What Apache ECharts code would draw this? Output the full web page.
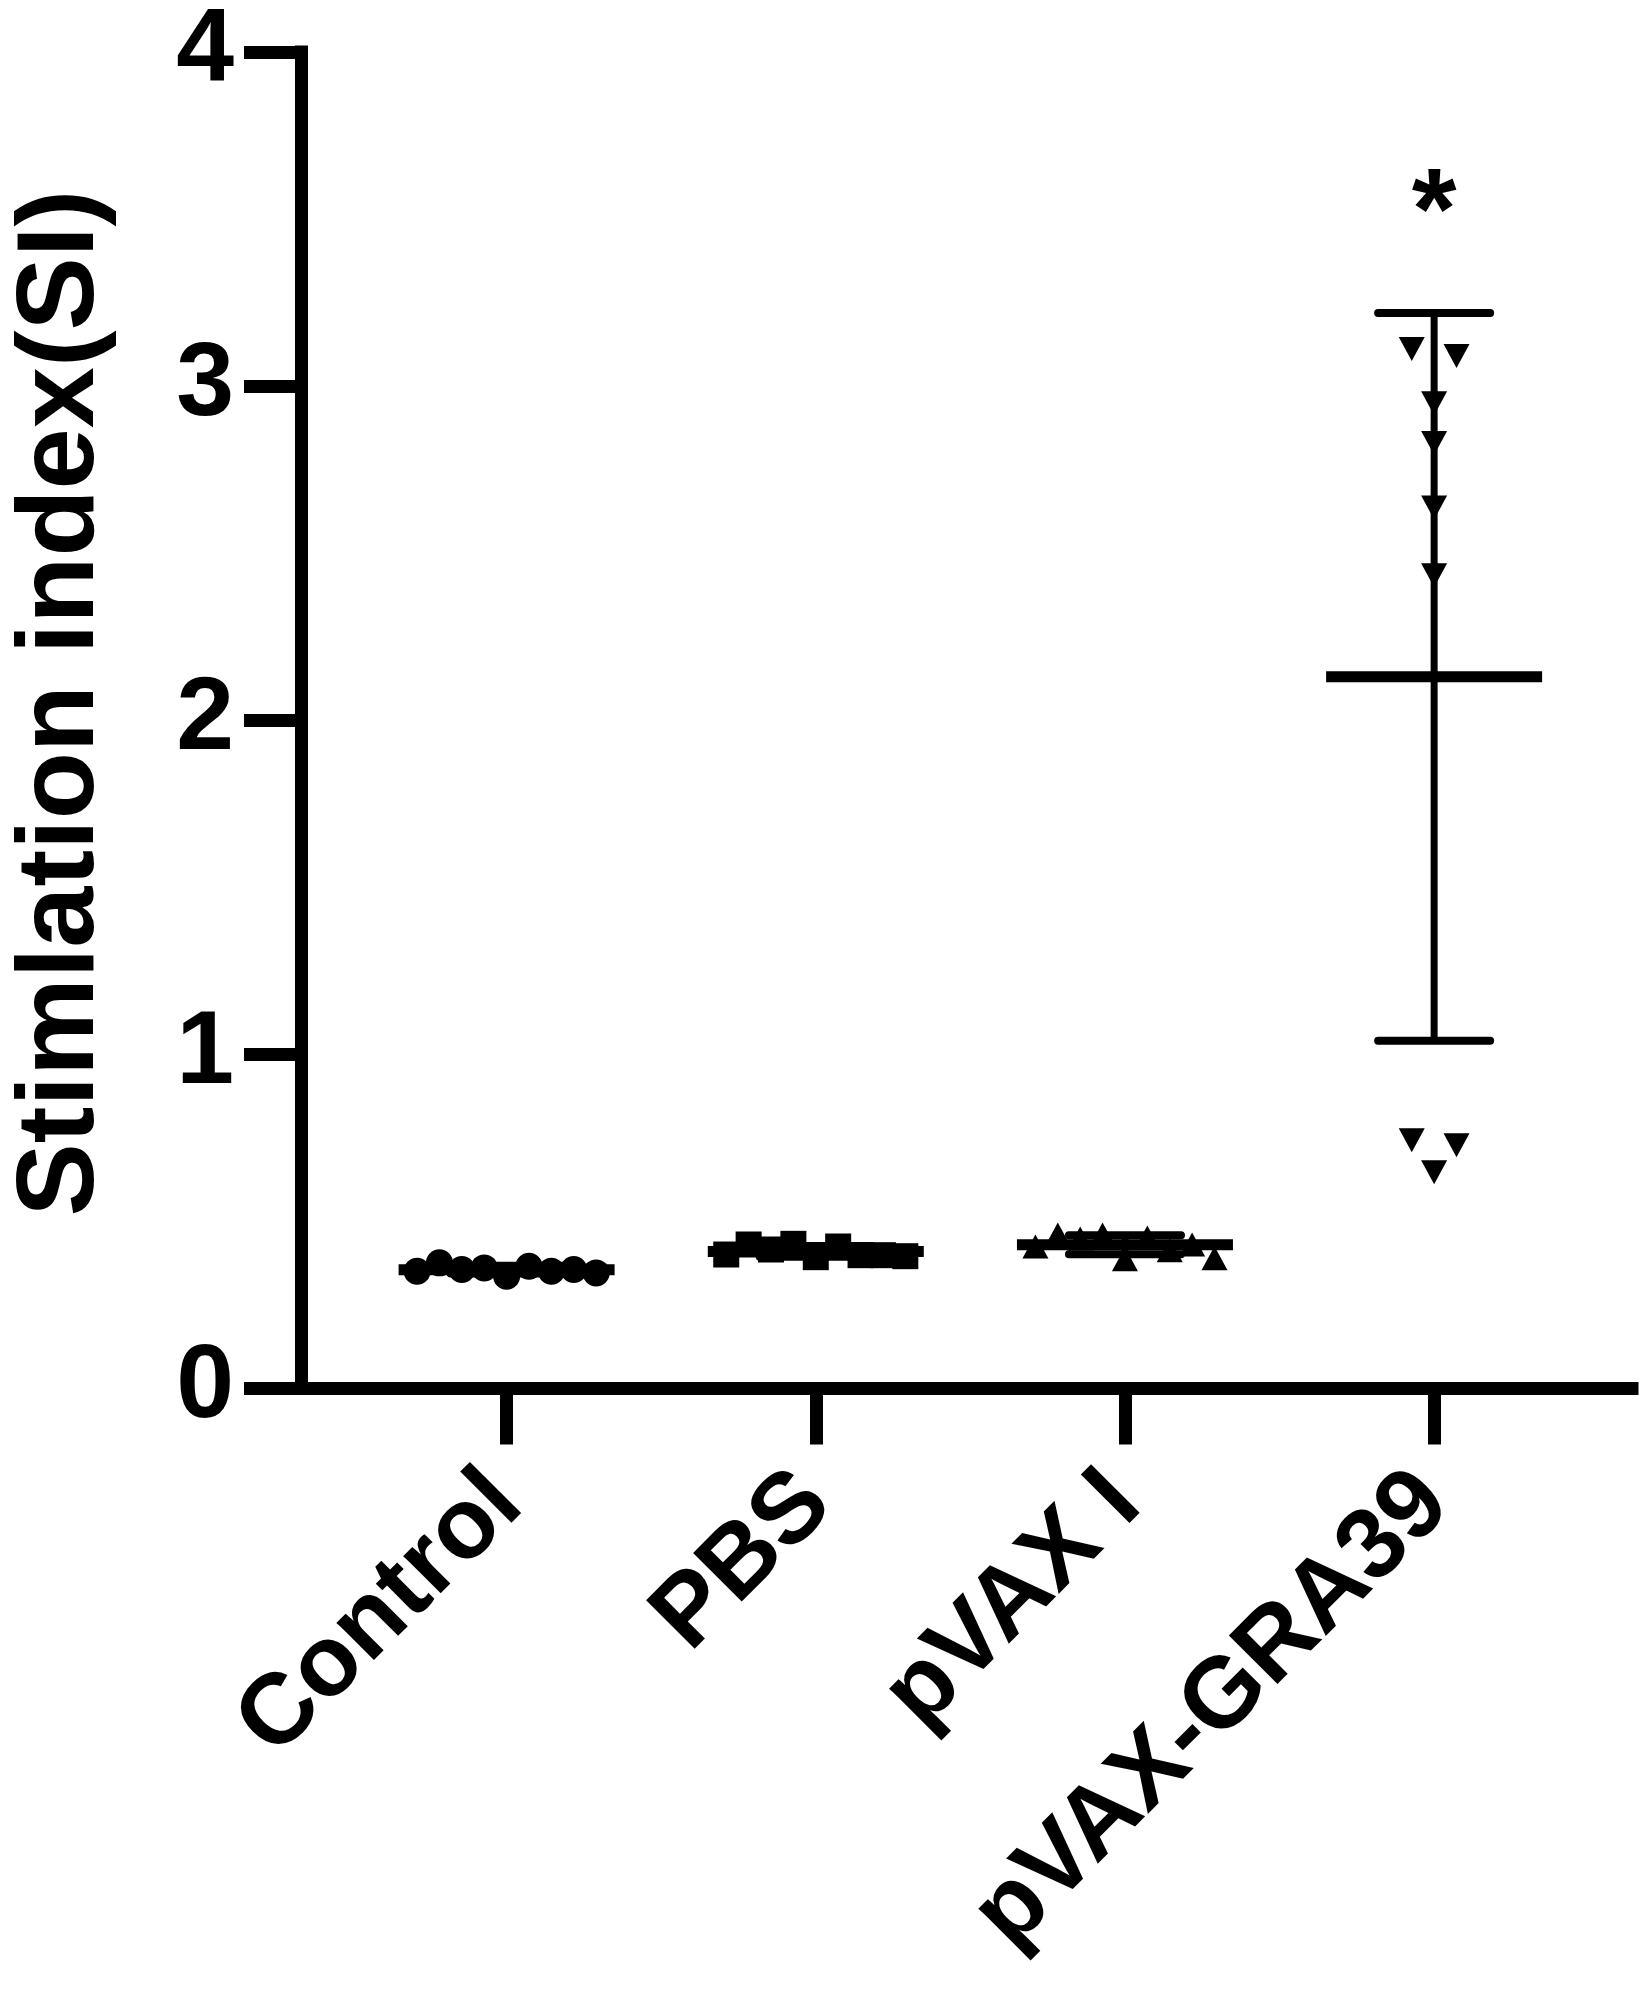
<!DOCTYPE html>
<html>
<head>
<meta charset="utf-8">
<style>
html,body{margin:0;padding:0;background:#fff;}
#chart{width:1650px;height:1991px;}
</style>
<script src="https://cdn.jsdelivr.net/npm/echarts@6/dist/echarts.min.js"></script>
</head>
<body>
<div id="chart"></div>
<script>
// ---- data ----
const categories = ['Control', 'PBS', 'pVAX I', 'pVAX-GRA39'];
const controlSI = [0.351, 0.376, 0.356, 0.361, 0.336, 0.366, 0.351, 0.356, 0.346];
const pbsSI     = [0.401, 0.431, 0.416, 0.433, 0.393, 0.425, 0.399, 0.399, 0.396];
const pvaxSI    = [0.425, 0.461, 0.449, 0.461, 0.387, 0.452, 0.414, 0.431, 0.390];
const gra39SI   = [3.111, 3.090, 2.949, 2.830, 2.637, 2.434, 0.743, 0.728, 0.647];
const sigMarks  = ['', '', '', '*'];
const yTickValues = [0, 1, 2, 3, 4];

const groups = [controlSI, pbsSI, pvaxSI, gra39SI];
const symbols = [
  { symbol: 'circle', size: 27, rotate: 0 },
  { symbol: 'rect', size: 26, rotate: 0 },
  { symbol: 'triangle', size: [26, 24], rotate: 0 },
  { symbol: 'triangle', size: [26, 24], rotate: 180 }
];

// column-scatter layout: points with overlapping values share a row and are spread sideways
const ROW_TOL = 0.09, SLOT = 0.0724;
function layoutGroup(values, pos) {
  const order = values.map((v, i) => i).sort((a, b) => values[b] - values[a]);
  const rows = [];
  order.forEach(i => {
    const last = rows[rows.length - 1];
    if (last && values[last[0]] - values[i] < ROW_TOL) last.push(i);
    else rows.push([i]);
  });
  const out = [];
  rows.forEach(row => {
    row.sort((a, b) => a - b);
    const n = row.length;
    row.forEach((idx, k) => {
      let slot;
      if (n % 2) slot = k - (n - 1) / 2;
      else slot = k < n / 2 ? k - n / 2 : k - n / 2 + 1;
      out.push([pos + slot * SLOT, values[idx]]);
    });
  });
  return out;
}
function mean(a) { return a.reduce((s, v) => s + v, 0) / a.length; }
function sd(a) { const m = mean(a); return Math.sqrt(a.reduce((s, v) => s + (v - m) * (v - m), 0) / (a.length - 1)); }

const summary = groups.map((g, i) => [i + 1, mean(g), sd(g)]);

const FONT = '"Liberation Sans", Arial, Helvetica, sans-serif';
const chart = echarts.init(document.getElementById('chart'), null, { renderer: 'canvas' });

const scatterSeries = groups.map((g, i) => ({
  type: 'scatter',
  name: categories[i],
  data: layoutGroup(g, i + 1),
  symbol: symbols[i].symbol,
  symbolSize: symbols[i].size,
  symbolRotate: symbols[i].rotate,
  itemStyle: { color: '#000', opacity: 1 },
  z: 3,
  silent: true,
  animation: false
}));

const option = {
  backgroundColor: '#fff',
  animation: false,
  grid: { left: 295, right: 18, top: 43.5, bottom: 602.5, containLabel: false },
  xAxis: {
    type: 'value',
    min: 0.335,
    max: 4.64,
    splitLine: { show: false },
    axisLine: { show: true, onZero: false, lineStyle: { color: '#000', width: 13, cap: 'square' } },
    axisTick: { show: true, length: 56, lineStyle: { color: '#000', width: 13 }, customValues: [1, 2, 3, 4] },
    axisLabel: {
      show: true,
      customValues: [1, 2, 3, 4],
      rotate: 45,
      margin: 100,
      color: '#000',
      fontFamily: FONT,
      fontWeight: 'bold',
      fontSize: 100,
      formatter: v => categories[Math.round(v) - 1] || ''
    }
  },
  yAxis: {
    type: 'value',
    min: 0,
    max: 4,
    interval: 1,
    name: 'Stimlation index(SI)',
    nameLocation: 'middle',
    nameGap: 183,
    nameTextStyle: { color: '#000', fontFamily: FONT, fontWeight: 'bold', fontSize: 110, padding: [0, 0, 0, 34] },
    splitLine: { show: false },
    axisLine: { show: true, lineStyle: { color: '#000', width: 13, cap: 'square' } },
    axisTick: { show: true, length: 57, lineStyle: { color: '#000', width: 13 } },
    axisLabel: {
      margin: 67,
      color: '#000',
      fontFamily: FONT,
      fontWeight: 'bold',
      fontSize: 104,
      formatter: v => (yTickValues.indexOf(v) >= 0 ? String(v) : '')
    }
  },
  series: scatterSeries.concat([{
    type: 'custom',
    name: 'mean ± SD',
    data: summary,
    encode: { x: 0, y: 1 },
    z: 2,
    silent: true,
    clip: false,
    renderItem: function (params, api) {
      const p = api.value(0), m = api.value(1), s = api.value(2);
      const c = api.coord([p, m]);
      const top = api.coord([p, m + s]);
      const bot = api.coord([p, m - s]);
      const children = [
        { type: 'line', shape: { x1: c[0], y1: top[1], x2: c[0], y2: bot[1] }, style: { stroke: '#000', lineWidth: 7 } },
        { type: 'line', shape: { x1: c[0] - 56, y1: top[1], x2: c[0] + 56, y2: top[1] }, style: { stroke: '#000', lineWidth: 8, lineCap: 'round' } },
        { type: 'line', shape: { x1: c[0] - 56, y1: bot[1], x2: c[0] + 56, y2: bot[1] }, style: { stroke: '#000', lineWidth: 8, lineCap: 'round' } },
        { type: 'line', shape: { x1: c[0] - 108, y1: c[1], x2: c[0] + 108, y2: c[1] }, style: { stroke: '#000', lineWidth: 11 } }
      ];
      const mark = sigMarks[params.dataIndex];
      if (mark) {
        children.push({
          type: 'text',
          style: {
            text: mark, x: c[0], y: top[1] - 97,
            align: 'center', verticalAlign: 'middle',
            fill: '#000', font: 'bold 115px ' + FONT
          }
        });
      }
      return { type: 'group', children: children };
    }
  }])
};
chart.setOption(option);
</script>
</body>
</html>
